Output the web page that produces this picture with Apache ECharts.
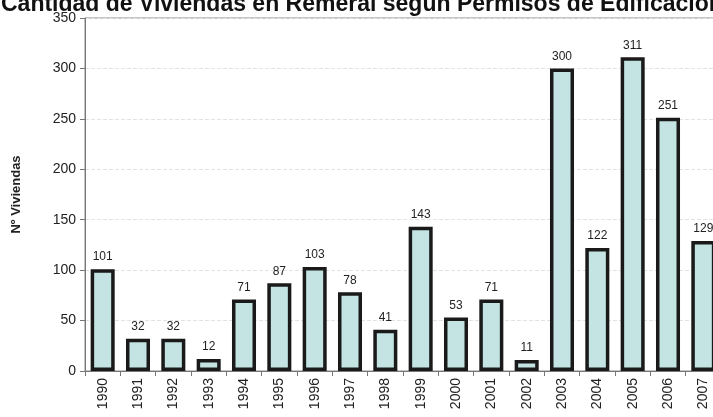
<!DOCTYPE html>
<html>
<head>
<meta charset="utf-8">
<script src="https://cdn.jsdelivr.net/npm/echarts@6/dist/echarts.min.js"></script>
<style>
  html, body { margin: 0; padding: 0; background: #fff; }
  #main { width: 713px; height: 417px; }
</style>
</head>
<body>
<div id="main"></div>
<script>
// years on the x axis
var years = ['1990', '1991', '1992', '1993', '1994', '1995', '1996', '1997', '1998',
             '1999', '2000', '2001', '2002', '2003', '2004', '2005', '2006', '2007'];
// number of dwellings per year
var viviendas = [101, 32, 32, 12, 71, 87, 103, 78, 41, 143, 53, 71, 11, 300, 122, 311, 251, 129];

var myChart = echarts.init(document.getElementById('main'));
var option = {
    backgroundColor: '#ffffff',
    animation: false,
    title: {
        text: 'Cantidad de Viviendas en Remeral según Permisos de Edificación',
        left: -4,
        top: -12,
        textStyle: {
            fontFamily: 'Liberation Sans',
            fontSize: 23,
            fontWeight: 'bold',
            color: '#111'
        }
    },
    // the picture is cut on the right, so the plot runs past the canvas
    grid: {
        left: 85,
        top: 18,
        width: 636,
        height: 353,
        outerBoundsMode: 'none',
        show: true,
        borderColor: '#8a8a8a',
        borderWidth: 1
    },
    xAxis: {
        type: 'category',
        data: years,
        axisLine: { lineStyle: { color: '#777', width: 1 } },
        axisTick: { show: true, alignWithLabel: false, length: 5, lineStyle: { color: '#777' } },
        axisLabel: {
            rotate: 90,
            margin: 7,
            fontFamily: 'Liberation Sans',
            fontSize: 14,
            color: '#222'
        }
    },
    yAxis: {
        type: 'value',
        min: 0,
        max: 350,
        interval: 50,
        name: 'Nº Viviendas',
        nameLocation: 'middle',
        nameGap: 62,
        nameRotate: 90,
        nameTextStyle: {
            fontFamily: 'Liberation Sans',
            fontSize: 13,
            fontWeight: 'bold',
            color: '#222'
        },
        axisLine: { show: true, lineStyle: { color: '#777' } },
        axisTick: { show: true, length: 5, lineStyle: { color: '#777' } },
        axisLabel: {
            margin: 9,
            fontFamily: 'Liberation Sans',
            fontSize: 14,
            color: '#222'
        },
        splitLine: { show: true, lineStyle: { color: '#e2e2e2', type: 'dashed', width: 1 } }
    },
    series: [
        {
            name: 'Viviendas',
            type: 'bar',
            data: viviendas,
            barWidth: '68%',
            itemStyle: {
                color: '#c3e4e3',
                borderColor: '#1a1a1a',
                borderWidth: 3.5
            },
            label: {
                show: true,
                position: 'top',
                distance: 6,
                fontFamily: 'Liberation Sans',
                fontSize: 12,
                color: '#222'
            }
        }
    ]
};
myChart.setOption(option);
</script>
</body>
</html>
